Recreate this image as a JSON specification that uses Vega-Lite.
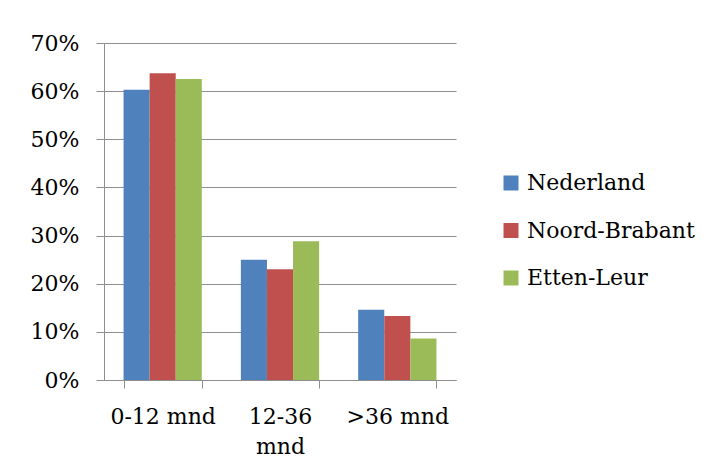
{
  "$schema": "https://vega.github.io/schema/vega-lite/v6.json",
  "description": "Grouped bars: share per duration class for Nederland, Noord-Brabant and Etten-Leur.",
  "width": 352,
  "height": 337,
  "autosize": {"type": "none"},
  "padding": {"left": 104, "top": 43, "right": 254, "bottom": 90},
  "background": "white",
  "data": {
    "values": [
      {"duur": "0-12 mnd", "regio": "Nederland", "aandeel": 0.603},
      {"duur": "0-12 mnd", "regio": "Noord-Brabant", "aandeel": 0.637},
      {"duur": "0-12 mnd", "regio": "Etten-Leur", "aandeel": 0.625},
      {"duur": "12-36 mnd", "regio": "Nederland", "aandeel": 0.25},
      {"duur": "12-36 mnd", "regio": "Noord-Brabant", "aandeel": 0.23},
      {"duur": "12-36 mnd", "regio": "Etten-Leur", "aandeel": 0.288},
      {"duur": ">36 mnd", "regio": "Nederland", "aandeel": 0.146},
      {"duur": ">36 mnd", "regio": "Noord-Brabant", "aandeel": 0.133},
      {"duur": ">36 mnd", "regio": "Etten-Leur", "aandeel": 0.086}
    ]
  },
  "mark": {"type": "bar"},
  "encoding": {
    "x": {
      "field": "duur",
      "type": "nominal",
      "sort": ["0-12 mnd", "12-36 mnd", ">36 mnd"],
      "scale": {"paddingInner": 0.333, "paddingOuter": 0.1667},
      "axis": {
        "title": null,
        "labelAngle": 0,
        "tickBand": "extent",
        "tickSize": 8,
        "tickColor": "#8e8e8e",
        "domainColor": "#8e8e8e",
        "labelPadding": 18,
        "labelLineHeight": 30,
        "labelExpr": "datum.label == '12-36 mnd' ? ['12-36', 'mnd'] : datum.label"
      }
    },
    "xOffset": {
      "field": "regio",
      "sort": ["Nederland", "Noord-Brabant", "Etten-Leur"]
    },
    "y": {
      "field": "aandeel",
      "type": "quantitative",
      "scale": {"domain": [0, 0.7], "nice": false},
      "axis": {
        "title": null,
        "format": "0%",
        "values": [0, 0.1, 0.2, 0.3, 0.4, 0.5, 0.6, 0.7],
        "tickSize": 8,
        "tickColor": "#8e8e8e",
        "domainColor": "#8e8e8e",
        "gridColor": "#8e8e8e",
        "labelPadding": 17
      }
    },
    "color": {
      "field": "regio",
      "type": "nominal",
      "sort": ["Nederland", "Noord-Brabant", "Etten-Leur"],
      "scale": {
        "domain": ["Nederland", "Noord-Brabant", "Etten-Leur"],
        "range": ["#4F81BD", "#C0504D", "#9BBB59"]
      },
      "legend": {
        "title": null,
        "orient": "none",
        "legendX": 396,
        "legendY": 129,
        "symbolType": "square",
        "symbolSize": 225,
        "symbolStrokeWidth": 0,
        "labelOffset": 5,
        "rowPadding": 25.5,
        "padding": 0
      }
    }
  },
  "config": {
    "view": {"stroke": null},
    "axis": {
      "labelFont": "DejaVu Serif",
      "labelFontSize": 22,
      "labelColor": "black",
      "grid": true,
      "gridWidth": 1,
      "domainWidth": 1
    },
    "axisX": {"grid": false},
    "legend": {
      "labelFont": "DejaVu Serif",
      "labelFontSize": 22,
      "labelColor": "black",
      "labelLimit": 300
    }
  }
}
